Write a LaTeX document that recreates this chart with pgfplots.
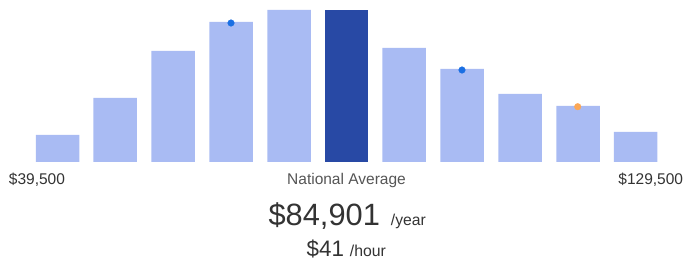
\documentclass[border=0pt]{standalone}
\usepackage{pgfplots}
\pgfplotsset{compat=1.18}
\usepackage{fontspec}
\setmainfont{Liberation Sans}
\definecolor{lightbar}{HTML}{A9BBF3}
\definecolor{darkbar}{HTML}{2849A5}
\definecolor{dotblue}{HTML}{1A6FE3}
\definecolor{dotorange}{HTML}{FBA756}
\definecolor{txtdark}{HTML}{333333}
\definecolor{txtgray}{HTML}{555555}
\begin{document}
\begin{tikzpicture}
\begin{axis}[
  scale only axis, width=693bp, height=270bp,
  xmin=0, xmax=693, ymin=-108, ymax=162,
  hide axis, clip=false,
  ybar, bar width=43.5, bar shift=0pt,
]
\addplot[ybar, fill=lightbar, draw=none] coordinates {
  (57.5,27) (115,64) (173,111) (231,140) (289,152)
  (404,114) (462,93) (520,68) (578,56) (635.5,30)
};
\addplot[ybar, fill=darkbar, draw=none, bar width=43] coordinates {(346.5,152)};
\addplot[only marks, mark=*, mark size=3.3bp, color=dotblue, draw=none] coordinates {(231,139) (462,92)};
\addplot[only marks, mark=*, mark size=3.3bp, color=dotorange, draw=none] coordinates {(577.7,55.3)};
\coordinate (sw) at (axis cs:0,-108);
\coordinate (ne) at (axis cs:693,162);
\node[anchor=base west, inner sep=0pt, text=txtdark, font=\fontsize{15.5bp}{18bp}\selectfont] at (axis cs:8.7,-22) {\$39,500};
\node[anchor=base east, inner sep=0pt, text=txtdark, font=\fontsize{15.5bp}{18bp}\selectfont] at (axis cs:683.3,-22) {\$129,500};
\node[anchor=base, inner sep=0pt, text=txtgray, font=\fontsize{15.5bp}{18bp}\selectfont] at (axis cs:346.5,-22) {National Average};
\node[anchor=base, inner sep=0pt, text=txtdark] at (axis cs:347.2,-63.7) {{\fontsize{30.8bp}{34bp}\selectfont\$84,901}\hspace{11bp}{\fontsize{15.7bp}{18bp}\selectfont /year}};
\node[anchor=base, inner sep=0pt, text=txtdark] at (axis cs:346.3,-94) {{\fontsize{22.4bp}{26bp}\selectfont\$41}\hspace{6bp}{\fontsize{15.8bp}{18bp}\selectfont /hour}};
\end{axis}
\path (sw) rectangle (ne);
\end{tikzpicture}
\end{document}
